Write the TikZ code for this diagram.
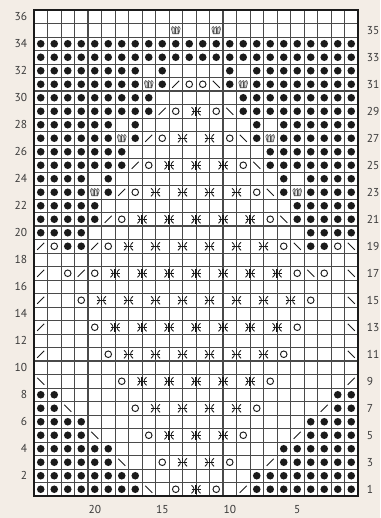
\documentclass[tikz,border=0pt]{standalone}
\usepackage{fontspec}
\setmainfont{PT Sans}
\definecolor{bgc}{HTML}{F3EDE6}
\definecolor{gridc}{HTML}{4A4A4A}
\definecolor{labc}{HTML}{3A3A3A}
\definecolor{dotc}{HTML}{1A1A1A}
\begin{document}
\begin{tikzpicture}[x=0.75pt,y=-0.75pt,
  gridthin/.style={draw=gridc,line width=0.55pt},
  gridthick/.style={draw=gridc,line width=1.6pt},
  lab/.style={text=labc,font=\fontsize{8.6}{10}\selectfont,inner sep=0pt},
  dotsym/.style={fill=dotc},
  osym/.style={draw=dotc,line width=0.7pt},
  slsym/.style={draw=dotc,line width=0.6pt},
  zhe/.pic={
    \draw[dotc,line width=0.6pt] (-4.5,-4) .. controls (-1.2,-1.8) and (-1.2,1.8) .. (-4.5,4);
    \draw[dotc,line width=0.6pt] (4.5,-4) .. controls (1.2,-1.8) and (1.2,1.8) .. (4.5,4);
    \draw[dotc,line width=0.6pt] (-4.5,0) -- (4.5,0);
    \draw[dotc,line width=0.8pt] (0,-4.5) -- (0,4.5);
  },
  crownsym/.pic={
    \draw[gridc,line width=0.4pt] (-4.5,-2) -- (-3,3.5) -- (3,3.5) -- (4.5,-2);
    \foreach \h in {-2.6,-1.3,0,1.3,2.6}
      \draw[gridc,line width=0.45pt] (\h*1.15,-2) -- (\h,3.5);
    \foreach \k in {-3,0,3}
      \draw[gridc,line width=0.45pt] (\k-1.5,-2) .. controls (\k-1.5,-4.2) and (\k+1.5,-4.2) .. (\k+1.5,-2);
  }]
\useasboundingbox (0,0) rectangle (380,518);
\fill[bgc] (0,0) rectangle (380,518);
\fill[white] (34,10) rectangle (358,496);
% thin grid
\foreach \i in {1,...,23}
  \draw[gridthin] ({34+\i*13.5},10) -- ({34+\i*13.5},496);
\foreach \j in {1,...,35}
  \draw[gridthin] (34,{496-\j*13.5}) -- (358,{496-\j*13.5});
% thick grid
\foreach \i in {4,14}
  \draw[gridthick] ({34+\i*13.5},10) -- ({34+\i*13.5},496);
\foreach \j in {10,20,30}
  \draw[gridthick] (34,{496-\j*13.5}) -- (358,{496-\j*13.5});
\draw[draw=dotc,line width=2pt] (34,10) rectangle (358,496);
% dots (left half, mirrored)
\foreach \r/\lst in {34/{1,...,12},33/{1,...,12},32/{1,...,8,10},31/{1,...,8,10},
  30/{1,...,9},29/{1,...,9},28/{1,...,6,8},27/{1,...,6,8},26/{1,...,7},25/{1,...,7},
  24/{1,...,4,6},23/{1,...,4,6},22/{1,...,5},21/{1,...,5},20/{1,...,4},19/{3,4},
  8/{1,2},7/{1,2},6/{1,...,4},5/{1,...,4},4/{1,...,6},3/{1,...,6},2/{1,...,8},1/{1,...,8}}
  {\foreach \L in \lst {
    \fill[dotsym] ({34+(\L-0.5)*13.5},{496-(\r-0.5)*13.5}) circle (3.8);
    \fill[dotsym] ({34+(24.5-\L)*13.5},{496-(\r-0.5)*13.5}) circle (3.8);
  }}
% open circles
\foreach \r/\L in {31/12,29/11,27/10,25/9,23/8,21/7,19/2,19/6,17/3,17/5,15/4,13/5,11/6,9/7,7/8,5/9,3/10,1/11}
  {\draw[osym] ({34+(\L-0.5)*13.5},{496-(\r-0.5)*13.5}) circle (3.3);
   \draw[osym] ({34+(24.5-\L)*13.5},{496-(\r-0.5)*13.5}) circle (3.3);}
% slashes: left "/" mirrored to "\"
\foreach \r/\L in {31/11,29/10,27/9,25/8,23/7,21/6,19/1,19/5,17/1,17/4,15/1,13/1,11/1}
  {\draw[slsym] ({34+(\L-0.5)*13.5-3.5},{496-(\r-0.5)*13.5+3.5}) -- ++(7,-7);
   \draw[slsym] ({34+(24.5-\L)*13.5+3.5},{496-(\r-0.5)*13.5+3.5}) -- ++(-7,-7);}
% left "\" mirrored to "/"
\foreach \r/\L in {9/1,7/3,5/5,3/7,1/9}
  {\draw[slsym] ({34+(\L-0.5)*13.5-3.5},{496-(\r-0.5)*13.5-3.5}) -- ++(7,7);
   \draw[slsym] ({34+(24.5-\L)*13.5+3.5},{496-(\r-0.5)*13.5-3.5}) -- ++(-7,7);}
% crowns
\foreach \r/\L in {35/11,31/9,27/7,23/5}
  {\pic at ({34+(\L-0.5)*13.5},{496-(\r-0.5)*13.5}) {crownsym};
   \pic at ({34+(24.5-\L)*13.5},{496-(\r-0.5)*13.5}) {crownsym};}
% two-stitch symbols on boundaries
\foreach \r/\lst in {29/{12},27/{11,13},25/{10,12,14},23/{9,11,13,15},21/{8,10,...,16},
  19/{7,9,...,17},17/{6,8,...,18},15/{5,7,...,19},13/{6,8,...,18},11/{7,9,...,17},
  9/{8,10,...,16},7/{9,11,...,15},5/{10,12,14},3/{11,13},1/{12}}
  {\foreach \b in \lst {\pic at ({34+\b*13.5},{496-(\r-0.5)*13.5}) {zhe};}}
% labels
\foreach \r in {2,4,...,36}
  \node[lab,anchor=east] (ll\r) at (27.5,{496-(\r-0.5)*13.5}) {\r};
\foreach \r in {1,3,...,35}
  \node[lab,anchor=west] (rl\r) at (366.5,{496-(\r-0.5)*13.5}) {\r};
\foreach \c in {5,10,15,20}
  \node[lab,anchor=north] (bl\c) at ({34+(24.5-\c)*13.5},505.5) {\c};
\end{tikzpicture}
\end{document}
